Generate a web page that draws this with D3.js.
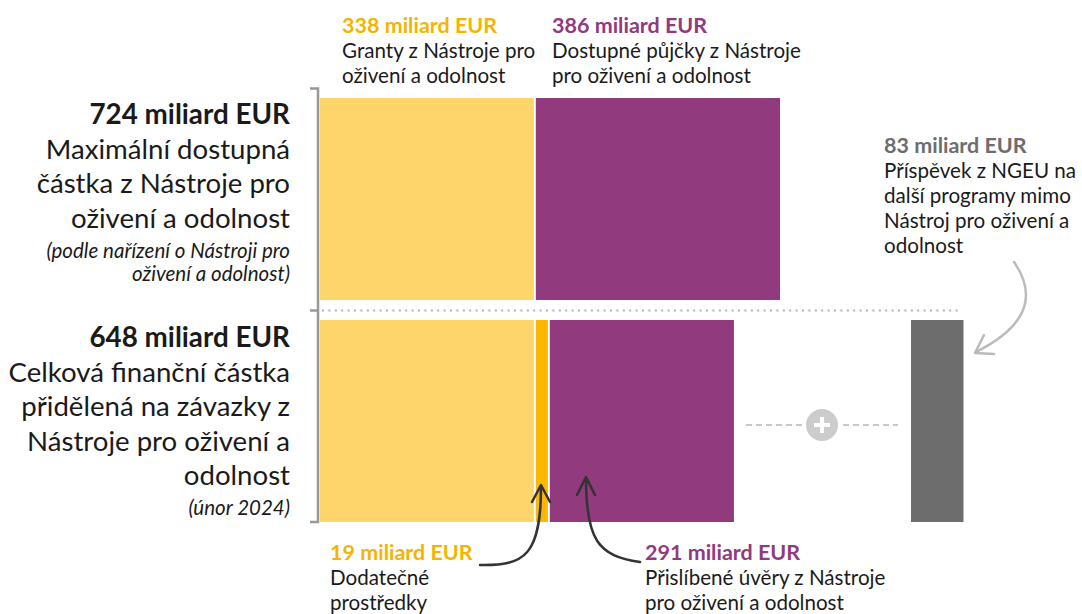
<!DOCTYPE html>
<meta charset="utf-8">
<style>
body { margin: 0; background: #fff; }
text { font-family: Lato, "Open Sans", sans-serif; fill: #1a1a1a; }
.big { font-size: 27.6px; }
.big.bold { font-size: 27.8px; }
.note { font-size: 20.5px; font-style: italic; }
.ann { font-size: 20.6px; }
.ann.bold { font-size: 21.5px; }
.bold { font-weight: bold; }
</style>
<svg width="1082" height="614"></svg>
<script src="https://d3js.org/d3.v7.min.js"></script>
<script>

// data (miliard EUR)
var rows = ["max", "committed"];
var grants = [338, 338];
var additional = [0, 19];
var loans = [386, 291];
var otherNGEU = 83;

var rowTotals = ["724 miliard EUR", "648 miliard EUR"];
var rowText = [
  ["Maximální dostupná", "částka z Nástroje pro", "oživení a odolnost"],
  ["Celková finanční částka", "přidělená na závazky z", "Nástroje pro oživení a", "odolnost"]
];
var rowNotes = [
  ["(podle nařízení o Nástroji pro", "oživení a odolnost)"],
  ["(únor 2024)"]
];

var colors = { grants: "#fed56b", additional: "#fbb800", loans: "#913a7e", other: "#6d6d6d" };

var svg = d3.select("svg");

var x = d3.scaleLinear().domain([0, 724]).range([0, 458]);
var x0 = 320, gap = 2;
var y = d3.scaleBand().domain(rows).range([98, 522]).paddingInner(0.09);

// build segments per row
var segs = [];
rows.forEach(function(r, i) {
  var pos = x0;
  [["grants", grants[i]], ["additional", additional[i]], ["loans", loans[i]]].forEach(function(p) {
    if (p[1] > 0) {
      segs.push({ row: r, key: p[0], value: p[1], x: pos });
      pos += x(p[1]) + gap;
    }
  });
});

svg.append("g").selectAll("rect")
  .data(segs)
  .enter().append("rect")
  .attr("x", function(d) { return d.x; })
  .attr("y", function(d) { return y(d.row); })
  .attr("width", function(d) { return x(d.value); })
  .attr("height", y.bandwidth())
  .attr("fill", function(d) { return colors[d.key]; });

// other NGEU bar
svg.append("rect")
  .attr("x", 911)
  .attr("y", y("committed"))
  .attr("width", x(otherNGEU))
  .attr("height", y.bandwidth())
  .attr("fill", colors.other);

// dotted separator
svg.append("line")
  .attr("x1", 322).attr("x2", 960)
  .attr("y1", 310.5).attr("y2", 310.5)
  .attr("stroke", "#b3b3b3").attr("stroke-width", 2)
  .attr("stroke-dasharray", "2,4.4");

// bracket
var br = svg.append("g").attr("stroke", "#999").attr("stroke-width", 2.5).attr("fill", "none");
br.append("path").attr("d", "M310,88.5 H318 V522 H310");
br.append("line").attr("x1", 310).attr("x2", 318).attr("y1", 310.5).attr("y2", 310.5);

// left labels
var left = svg.append("g").attr("text-anchor", "end");
[124, 347].forEach(function(base, i) {
  left.append("text").attr("class", "big bold").attr("x", 290).attr("y", base).text(rowTotals[i]);
  rowText[i].forEach(function(t, j) {
    left.append("text").attr("class", "big").attr("x", 290).attr("y", base + 34.5 * (j + 1)).text(t);
  });
  var nb = base + 34.5 * rowText[i].length + 30;
  rowNotes[i].forEach(function(t, j) {
    left.append("text").attr("class", "note").attr("x", 290).attr("y", nb + 23 * j).text(t);
  });
});

// annotations
function annotate(xp, yp, head, color, lines, lh) {
  var g = svg.append("g");
  g.append("text").attr("class", "ann bold").attr("x", xp).attr("y", yp)
    .style("fill", color).text(head);
  lines.forEach(function(t, j) {
    g.append("text").attr("class", "ann").attr("x", xp).attr("y", yp + lh * (j + 1)).text(t);
  });
}
annotate(342, 33, grants[0] + " miliard EUR", "#f5b400", ["Granty z Nástroje pro", "oživení a odolnost"], 25);
annotate(552, 33, loans[0] + " miliard EUR", colors.loans, ["Dostupné půjčky z Nástroje", "pro oživení a odolnost"], 25);
annotate(330, 560, additional[1] + " miliard EUR", "#f5b400", ["Dodatečné", "prostředky"], 25);
annotate(645, 560, loans[1] + " miliard EUR", colors.loans, ["Přislíbené úvěry z Nástroje", "pro oživení a odolnost"], 25);
annotate(884, 153, otherNGEU + " miliard EUR", colors.other, ["Příspěvek z NGEU na", "další programy mimo", "Nástroj pro oživení a", "odolnost"], 25);

// arrows
var arr = svg.append("g").attr("fill", "none").attr("stroke", "#333").attr("stroke-width", 2.5)
  .attr("stroke-linecap", "round").attr("stroke-linejoin", "round");
arr.append("path").attr("d", "M480,565 C525,566 541,555 541,486");
arr.append("path").attr("d", "M532,502 L541,485 L550,502");
arr.append("path").attr("d", "M640,562 C598,556 586,540 586,478");
arr.append("path").attr("d", "M577,495 L586,477 L595,495");

var garr = svg.append("g").attr("fill", "none").attr("stroke", "#bbb").attr("stroke-width", 2.5)
  .attr("stroke-linecap", "round").attr("stroke-linejoin", "round");
garr.append("path").attr("d", "M1014,262 C1030,285 1040,320 976,352");
garr.append("path").attr("d", "M984,335 L975,353 L994,354");

// plus connector
var cy = 425;
svg.append("line").attr("x1", 746).attr("x2", 803).attr("y1", cy).attr("y2", cy)
  .attr("stroke", "#c8c8c8").attr("stroke-width", 2).attr("stroke-dasharray", "6,4");
svg.append("line").attr("x1", 843).attr("x2", 898).attr("y1", cy).attr("y2", cy)
  .attr("stroke", "#c8c8c8").attr("stroke-width", 2).attr("stroke-dasharray", "6,4");
svg.append("circle").attr("cx", 822).attr("cy", cy).attr("r", 16).attr("fill", "#cccccc");
svg.append("path").attr("d", "M822," + (cy - 8) + " V" + (cy + 8) + " M814," + cy + " H830")
  .attr("stroke", "#fff").attr("stroke-width", 4);

</script>
